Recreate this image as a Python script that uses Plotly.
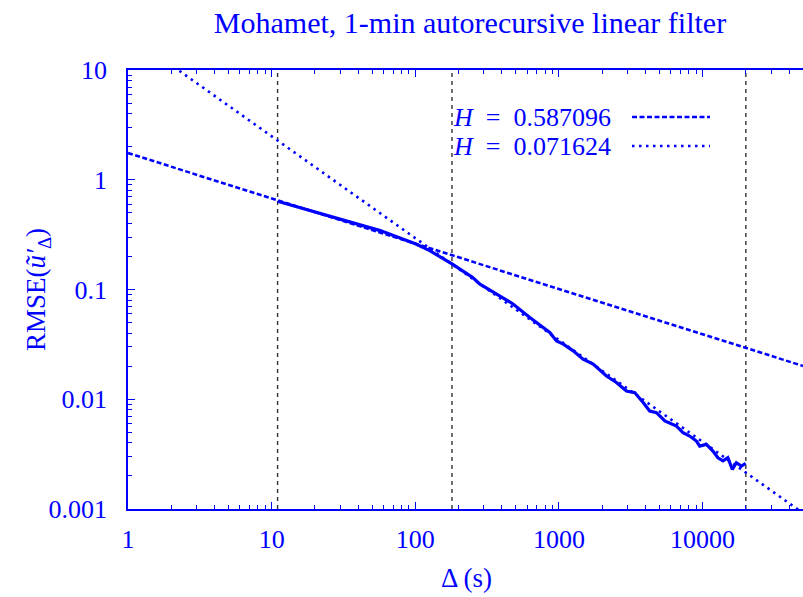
import plotly.graph_objects as go

# ---- data ----
delta_s = [11, 16, 25, 40, 57, 80, 100, 126, 180, 250, 282, 479, 627, 863, 962,
           1072, 1256, 1472, 1730, 2143, 2512, 2951, 3373, 3855, 4285, 4775, 5458,
           6577, 7311, 8128, 9057, 9550, 10620, 11800, 12790, 13870, 15000, 16110,
           17180, 18620, 19950]
rmse = [0.638, 0.556, 0.473, 0.398, 0.344, 0.292, 0.261, 0.226, 0.171, 0.129, 0.112,
        0.0738, 0.0556, 0.0406, 0.0340, 0.0318, 0.0276, 0.0232, 0.0209, 0.0163, 0.0142,
        0.0119, 0.0115, 0.00933, 0.00782, 0.00755, 0.00634, 0.00570, 0.00495, 0.00462,
        0.00416, 0.00374, 0.00388, 0.00337, 0.00293, 0.00274, 0.00293, 0.00229,
        0.00264, 0.00246, 0.00260]

fit1_label = "<i>H</i>\u2002=\u20020.587096"
fit1_x = [1, 50000]
fit1_y = [1.75, 0.0201]

fit2_label = "<i>H</i>\u2002=\u20020.071624"
fit2_x = [1, 50000]
fit2_y = [21.1, 0.000918]

vlines_x = [11, 180, 20000]

x_tickvals = [1, 10, 100, 1000, 10000]
x_ticktext = ["1", "10", "100", "1000", "10000"]
y_tickvals = [0.001, 0.01, 0.1, 1, 10]
y_ticktext = ["0.001", "0.01", "0.1", "1", "10"]

title_text = "Mohamet, 1-min autorecursive linear filter"
x_title = "Δ (s)"
y_title = "RMSE(<i>ũ′</i><sub>Δ</sub>)"

# ---- style ----
BLUE = "#0000ff"
FONT = "Liberation Serif"
W, H = 803, 597
ML, MR, MT, MB = 128, 0, 70, 88

minor_x = [m * 10 ** k for k in range(0, 5) for m in range(2, 10)]
minor_y = [m * 10 ** k for k in range(-3, 1) for m in range(2, 10)]

fig = go.Figure()
fig.add_trace(go.Scatter(x=delta_s, y=rmse, mode="lines",
                         line=dict(color=BLUE, width=3.2), showlegend=False))
fig.add_trace(go.Scatter(x=fit1_x, y=fit1_y, mode="lines",
                         line=dict(color=BLUE, width=2.6, dash="5px,2.5px"), showlegend=False))
fig.add_trace(go.Scatter(x=fit2_x, y=fit2_y, mode="lines",
                         line=dict(color=BLUE, width=2.6, dash="2.5px,4.5px"), showlegend=False))

for xv in vlines_x:
    fig.add_shape(type="line", xref="x", yref="paper", x0=xv, x1=xv, y0=0, y1=1,
                  line=dict(color="#333333", width=1.4, dash="4px,4px"), layer="below")

# legend (text + sample lines), placed like the reference
pw = W - ML - MR
ph = H - MT - MB
def px_to_paper_x(px):
    return (px - ML) / pw
def py_to_paper_y(py):
    return (H - MB - py) / ph

for label, dash, ypx in [(fit1_label, "5px,2.5px", 117), (fit2_label, "2.5px,4.5px", 146)]:
    fig.add_annotation(text=label, xref="paper", yref="paper",
                       x=px_to_paper_x(613), y=py_to_paper_y(ypx),
                       xanchor="right", yanchor="middle", showarrow=False,
                       font=dict(family=FONT, size=26, color=BLUE))
    fig.add_shape(type="line", xref="paper", yref="paper",
                  x0=px_to_paper_x(632), x1=px_to_paper_x(710),
                  y0=py_to_paper_y(ypx), y1=py_to_paper_y(ypx),
                  line=dict(color=BLUE, width=2.6, dash=dash))

fig.add_annotation(text=x_title, xref="paper", yref="paper",
                   x=px_to_paper_x(466), y=py_to_paper_y(578),
                   xanchor="center", yanchor="middle", showarrow=False,
                   font=dict(family=FONT, size=27, color=BLUE))
fig.add_annotation(text=y_title, xref="paper", yref="paper",
                   x=px_to_paper_x(38), y=py_to_paper_y(290),
                   xanchor="center", yanchor="middle", showarrow=False, textangle=-90,
                   font=dict(family=FONT, size=27, color=BLUE))

axis_common = dict(type="log", showgrid=False, zeroline=False, showline=True,
                   linecolor=BLUE, linewidth=1.6, ticks="inside", ticklen=7,
                   tickwidth=1.3, tickcolor=BLUE, tickmode="array",
                   tickfont=dict(family=FONT, size=26, color=BLUE))

fig.update_layout(
    width=W, height=H,
    margin=dict(l=ML, r=MR, t=MT, b=MB, pad=0),
    paper_bgcolor="white", plot_bgcolor="white",
    title=dict(text=title_text, x=px_to_paper_x(470), xref="paper", xanchor="center",
               y=1 - 22 / H, yref="container", yanchor="middle",
               font=dict(family=FONT, size=30, color=BLUE)),
    xaxis=dict(range=[0, 4.699], tickvals=x_tickvals, ticktext=x_ticktext,
               mirror="allticks",
               minor=dict(tickmode="array", tickvals=minor_x, ticks="inside",
                          ticklen=4, tickwidth=1.1, tickcolor=BLUE, showgrid=False),
               ticklabelstandoff=6,
               **axis_common),
    yaxis=dict(range=[-3, 1], tickvals=y_tickvals, ticktext=y_ticktext,
               mirror=False,
               minor=dict(tickmode="array", tickvals=minor_y, ticks="inside",
                          ticklen=4, tickwidth=1.1, tickcolor=BLUE, showgrid=False),
               ticklabelstandoff=14,
               **axis_common),
)

fig.write_html("out.html")
